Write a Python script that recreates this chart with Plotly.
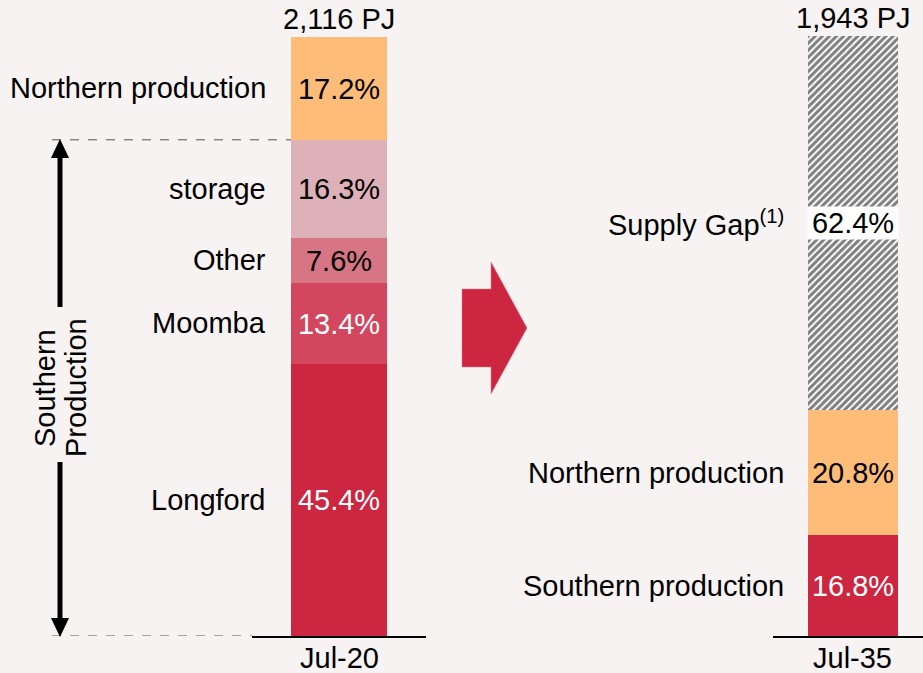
import plotly.graph_objects as go

# ---- data ----
periods = ["Jul-20", "Jul-35"]
totals = ["2,116 PJ", "1,943 PJ"]
segments_2020 = ["Longford", "Moomba", "Other", "storage", "Northern production"]
shares_2020 = [45.4, 13.4, 7.6, 16.3, 17.2]
segments_2035 = ["Southern production", "Northern production", "Supply Gap<sup>(1)</sup>"]
shares_2035 = [16.8, 20.8, 62.4]
southern_group = ["Longford", "Moomba", "Other", "storage"]

# ---- style ----
W, H = 923, 673
BG = "#F7F3F2"
FONT = "Liberation Sans, Arial, sans-serif"
FS = 29
colors_2020 = ["#CC2640", "#D2475E", "#D77585", "#DEB0B8", "#FDBD78"]
txtcol_2020 = ["white", "white", "black", "black", "black"]
colors_2035 = ["#CC2640", "#FDBD78", "white"]
txtcol_2035 = ["white", "black", "black"]


def px(x):
    return x / W


def py(y):
    return 1 - y / H


ydom = [py(636), py(36)]

fig = go.Figure()

for name, v, c, tc in zip(segments_2020, shares_2020, colors_2020, txtcol_2020):
    fig.add_trace(go.Bar(
        x=[periods[0]], y=[v], name=name, marker=dict(color=c, line=dict(width=0)),
        text=[f"{v}%"], textposition="inside", insidetextanchor="middle",
        textfont=dict(color=tc, size=FS, family=FONT), width=0.557,
        xaxis="x", yaxis="y", showlegend=False, hoverinfo="skip"))

for i, (name, v, c, tc) in enumerate(zip(segments_2035, shares_2035, colors_2035, txtcol_2035)):
    is_gap = i == 2
    fig.add_trace(go.Bar(
        x=[periods[1]], y=[v], name=name,
        marker=dict(color=c, line=dict(width=0),
                    pattern=dict(shape="/", fgcolor="black", bgcolor="white", size=5, solidity=0.6) if is_gap else None),
        text=None if is_gap else [f"{v}%"], textposition="inside", insidetextanchor="middle",
        textfont=dict(color=tc, size=FS, family=FONT), width=0.6,
        xaxis="x2", yaxis="y", showlegend=False, hoverinfo="skip"))

annotations = []
# left labels bar 1
cum = 0
for name, v in zip(segments_2020, shares_2020):
    annotations.append(dict(x=px(268), xref="paper", y=cum + v / 2, yref="y", text=name,
                            xanchor="right", yanchor="middle", showarrow=False,
                            font=dict(size=FS, color="black", family=FONT)))
    cum += v
total_2020 = cum
cum = 0
for i, (name, v) in enumerate(zip(segments_2035, shares_2035)):
    annotations.append(dict(x=px(786), xref="paper", y=cum + v / 2, yref="y", text=name,
                            xanchor="right", yanchor="middle", showarrow=False,
                            font=dict(size=FS, color="black", family=FONT)))
    if i == 2:
        annotations.append(dict(x=periods[1], xref="x2", y=cum + v / 2, yref="y", text=f"{v}%",
                                xanchor="center", yanchor="middle", showarrow=False,
                                bgcolor="white", width=90, height=32, borderpad=0,
                                font=dict(size=FS, color="black", family=FONT)))
    cum += v
total_2035 = cum

for ax, per, tot, tval in [("x", periods[0], totals[0], total_2020), ("x2", periods[1], totals[1], total_2035)]:
    annotations.append(dict(x=per, xref=ax, y=tval, yref="y", text=tot,
                            xanchor="center", yanchor="bottom", showarrow=False,
                            font=dict(size=FS, color="black", family=FONT)))
    annotations.append(dict(x=per, xref=ax, y=0, yref="y", text=per,
                            xanchor="center", yanchor="top", showarrow=False, yshift=-4,
                            font=dict(size=FS, color="black", family=FONT)))

# Southern Production rotated label
annotations.append(dict(x=px(45), xref="paper", y=py(388), yref="paper", text="Southern",
                        textangle=-90, showarrow=False, xanchor="center", yanchor="middle",
                        font=dict(size=FS, color="black", family=FONT)))
annotations.append(dict(x=px(76), xref="paper", y=py(388), yref="paper", text="Production",
                        textangle=-90, showarrow=False, xanchor="center", yanchor="middle",
                        font=dict(size=FS, color="black", family=FONT)))

southern_total = sum(v for n, v in zip(segments_2020, shares_2020) if n in southern_group)

shapes = [
    # dashed guide lines
    dict(type="line", xref="paper", yref="y", x0=px(52), x1=px(291), y0=southern_total, y1=southern_total,
         line=dict(color="#555555", width=1, dash="dash")),
    dict(type="line", xref="paper", yref="y", x0=px(52), x1=px(252), y0=0, y1=0,
         line=dict(color="#555555", width=1, dash="dash")),
    # double arrow shafts
    dict(type="line", xref="paper", yref="paper", x0=px(60), x1=px(60), y0=py(155), y1=py(307),
         line=dict(color="black", width=5)),
    dict(type="line", xref="paper", yref="paper", x0=px(60), x1=px(60), y0=py(462), y1=py(620),
         line=dict(color="black", width=5)),
    # arrow heads
    dict(type="path", xref="paper", yref="paper",
         path=f"M {px(51)},{py(158)} L {px(60)},{py(139)} L {px(69)},{py(158)} Z",
         fillcolor="black", line=dict(width=0)),
    dict(type="path", xref="paper", yref="paper",
         path=f"M {px(51)},{py(618)} L {px(60)},{py(637)} L {px(69)},{py(618)} Z",
         fillcolor="black", line=dict(width=0)),
    # big red arrow
    dict(type="path", xref="paper", yref="paper",
         path=(f"M {px(462)},{py(289)} L {px(491)},{py(289)} L {px(491)},{py(262)} "
               f"L {px(527)},{py(328)} L {px(491)},{py(394)} L {px(491)},{py(367)} "
               f"L {px(462)},{py(367)} Z"),
         fillcolor="#CC2640", line=dict(color="#E07A8A", width=0.5)),
]

axis_common = dict(showline=True, linecolor="black", linewidth=2, ticks="", showgrid=False,
                   zeroline=False, automargin=False, showticklabels=False, fixedrange=True)

fig.update_layout(
    width=W, height=H, margin=dict(l=0, r=0, t=0, b=0, autoexpand=False),
    paper_bgcolor=BG, plot_bgcolor=BG, barmode="stack", bargap=0,
    uniformtext=dict(minsize=FS, mode="show"),
    xaxis=dict(domain=[px(252), px(426)], range=[-0.5, 0.5], anchor="y", **axis_common),
    xaxis2=dict(domain=[px(773), 1.0], range=[-0.533, 0.467], anchor="y", **axis_common),
    yaxis=dict(domain=ydom, range=[0, 100], visible=False, fixedrange=True, automargin=False),
    annotations=annotations, shapes=shapes, showlegend=False,
)

fig.write_html("out.html", config={"displayModeBar": False},
               post_script="document.body.style.margin='0';document.body.style.overflow='hidden';")
